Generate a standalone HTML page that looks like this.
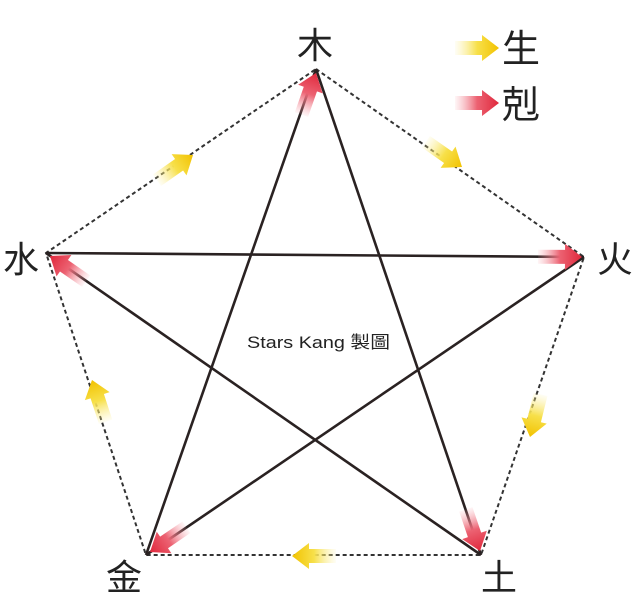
<!DOCTYPE html>
<html><head><meta charset="utf-8"><style>
html,body{margin:0;padding:0;background:#fff;}
svg{display:block;}
text{font-family:"Liberation Sans","Noto Sans CJK TC",sans-serif;fill:#222;}
</style></head><body>
<svg width="640" height="616" viewBox="0 0 640 616" xmlns="http://www.w3.org/2000/svg">
<defs>
<linearGradient id="gy" x1="0" y1="0" x2="1" y2="0">
<stop offset="0" stop-color="#fbef9a" stop-opacity="0.1"/><stop offset="0.5" stop-color="#f7e04a"/><stop offset="1" stop-color="#f2c200"/></linearGradient>
<linearGradient id="gr" x1="0" y1="0" x2="1" y2="0">
<stop offset="0" stop-color="#f6a0aa" stop-opacity="0.1"/><stop offset="0.5" stop-color="#ec6272"/><stop offset="1" stop-color="#e0283c"/></linearGradient>
<polygon id="ay" points="-44,-7 -17,-7 -17,-13 0,0 -17,13 -17,7 -44,7" fill="url(#gy)"/>
<polygon id="ar" points="-44,-7 -17,-7 -17,-13 0,0 -17,13 -17,7 -44,7" fill="url(#gr)"/>
</defs>
<g stroke="#333" stroke-width="2" stroke-dasharray="4,3" fill="none">
<polygon points="316,69 584,257 481,555 146,555 46,253"/>
</g>
<g stroke="#2a2222" stroke-width="2.6" fill="none">
<line x1="316" y1="69" x2="481" y2="555"/>
<line x1="481" y1="555" x2="46" y2="253"/>
<line x1="46" y1="253" x2="584" y2="257"/>
<line x1="584" y1="257" x2="146" y2="555"/>
<line x1="146" y1="555" x2="316" y2="69"/>
</g>
<use href="#ay" transform="translate(462,167) rotate(35)"/>
<use href="#ay" transform="translate(530,437) rotate(104)"/>
<use href="#ay" transform="translate(292,556) rotate(180)"/>
<use href="#ay" transform="translate(92,380) rotate(-108)"/>
<use href="#ay" transform="translate(193,155) rotate(-35)"/>
<use href="#ar" transform="translate(316,73) rotate(-70.7)"/>
<use href="#ar" transform="translate(480,551) rotate(71.2)"/>
<use href="#ar" transform="translate(50,256) rotate(-145.2)"/>
<use href="#ar" transform="translate(582,257) rotate(0.4)"/>
<use href="#ar" transform="translate(150,552) rotate(145.8)"/>
<use href="#ay" transform="translate(499,48)"/>
<use href="#ar" transform="translate(499,103)"/>
<text x="502" y="62" font-size="38">生</text>
<text x="502" y="118" font-size="38">剋</text>
<text x="297" y="58" font-size="36">木</text>
<text x="597" y="272" font-size="36">火</text>
<text x="3" y="272" font-size="36">水</text>
<text x="106" y="590" font-size="36">金</text>
<text x="481" y="590" font-size="36">土</text>
<text x="247" y="348" font-size="17" textLength="143" lengthAdjust="spacingAndGlyphs">Stars Kang 製圖</text>
</svg>
</body></html>
